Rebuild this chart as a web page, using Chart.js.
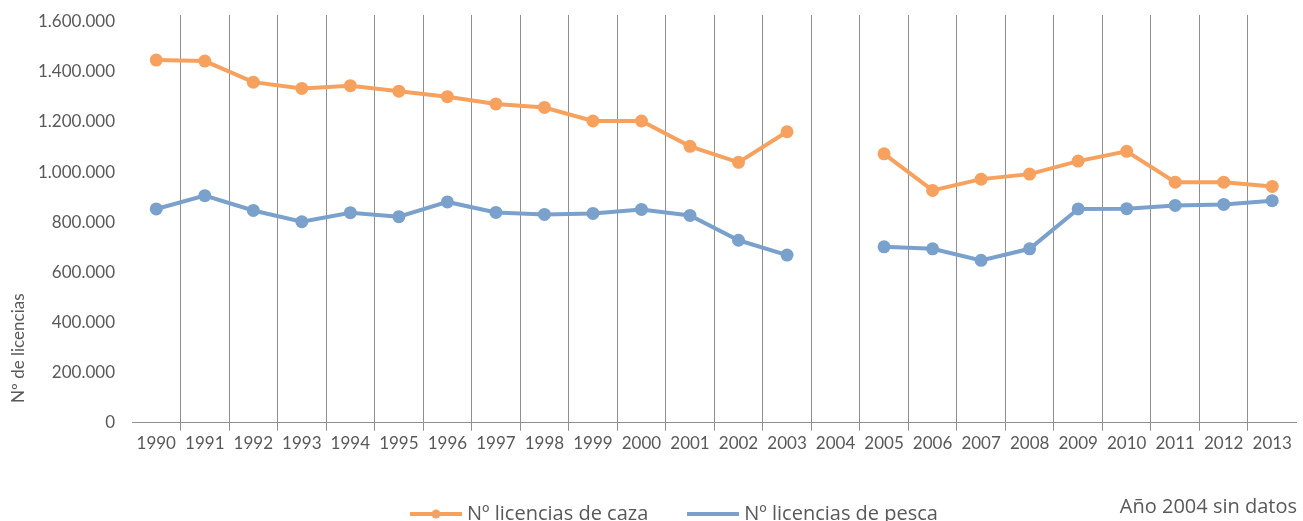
<!DOCTYPE html>
<html><head><meta charset="utf-8">
<script src="https://cdn.jsdelivr.net/npm/chart.js@4"></script>
<style>html,body{margin:0;padding:0;background:#fff;overflow:hidden}</style>
</head><body>
<canvas id="c" width="1303" height="521"></canvas>
<script>
// ---- data ----
const years = ['1990','1991','1992','1993','1994','1995','1996','1997','1998','1999','2000','2001','2002','2003','2004','2005','2006','2007','2008','2009','2010','2011','2012','2013'];
const caza  = [1447000,1443000,1359000,1334000,1345000,1323000,1301000,1272000,1258000,1204000,1204000,1103000,1039000,1161000,null,1073000,927000,972000,992000,1044000,1083000,960000,960000,943000];
const pesca = [853000,906000,847000,802000,838000,822000,881000,839000,831000,835000,851000,827000,728000,669000,null,702000,694000,648000,694000,853000,854000,867000,871000,886000];
const yTicks = [0,200000,400000,600000,800000,1000000,1200000,1400000,1600000];
const seriesNames = ['Nº licencias de caza','Nº licencias de pesca'];
const yTitle = 'Nº de licencias';
const note = 'Año 2004 sin datos';

// ---- style ----
const ORANGE = '#F7A15F';
const BLUE = '#7AA0CC';
const GRID = '#8e8e8e';
const TEXT = '#595959';
const FONT = "Lato, 'Open Sans', sans-serif";
const FONT2 = "'Open Sans', Lato, sans-serif";

function fmt(v){ return String(v).replace(/\B(?=(\d{3})+(?!\d))/g,'.'); }

function legendImg(color, dot){
  const c = document.createElement('canvas');
  c.width = 52; c.height = 12;
  const g = c.getContext('2d');
  g.strokeStyle = color; g.lineWidth = 4;
  g.beginPath(); g.moveTo(0,6); g.lineTo(52,6); g.stroke();
  if (dot) { g.fillStyle = color; g.beginPath(); g.arc(26,6,4.5,0,Math.PI*2); g.fill(); }
  return c;
}
const legendImgs = [legendImg(ORANGE, true), legendImg(BLUE, false)];

const extras = {
  id: 'extras',
  afterLayout(chart){
    if (chart.legend) { chart.legend.left = 55; }
  },
  afterDraw(chart){
    const ctx = chart.ctx;
    ctx.save();
    ctx.fillStyle = TEXT;
    ctx.font = '17px ' + FONT;
    ctx.translate(19, 403);
    ctx.rotate(-Math.PI/2);
    ctx.textAlign = 'left'; ctx.textBaseline = 'middle';
    ctx.fillText(yTitle, 0, 0);
    ctx.restore();
    ctx.save();
    ctx.fillStyle = TEXT;
    ctx.font = '20px ' + FONT2;
    ctx.textAlign = 'right'; ctx.textBaseline = 'middle';
    ctx.fillText(note, 1297, 507);
    ctx.restore();
  }
};

new Chart(document.getElementById('c'), {
  type: 'line',
  data: {
    labels: years,
    datasets: [
      {label: seriesNames[0], data: caza, borderColor: ORANGE, backgroundColor: ORANGE, borderWidth: 4,
       pointRadius: 6.5, pointBorderWidth: 0, pointBackgroundColor: ORANGE, pointHoverRadius: 6.5, spanGaps: false},
      {label: seriesNames[1], data: pesca, borderColor: BLUE, backgroundColor: BLUE, borderWidth: 4,
       pointRadius: 6.5, pointBorderWidth: 0, pointBackgroundColor: BLUE, pointHoverRadius: 6.5, spanGaps: false}
    ]
  },
  options: {
    responsive: false,
    animation: false,
    devicePixelRatio: 1,
    layout: {padding: {left: 0, right: 5, top: 15, bottom: -13}},
    plugins: {
      tooltip: {enabled: false},
      legend: {
        position: 'bottom',
        align: 'center',
        labels: {
          usePointStyle: true,
          pointStyleWidth: 42,
          padding: 44,
          color: TEXT,
          font: {family: FONT2, size: 20},
          generateLabels(chart){
            const items = Chart.defaults.plugins.legend.labels.generateLabels(chart);
            items.forEach(it => { it.pointStyle = legendImgs[it.datasetIndex]; });
            return items;
          }
        }
      }
    },
    scales: {
      x: {
        type: 'category',
        offset: true,
        grid: {
          offset: true,
          color: c => (c.index > 0 ? GRID : 'rgba(0,0,0,0)'),
          lineWidth: 1,
          drawTicks: true,
          tickLength: 8
        },
        border: {display: true, color: GRID, width: 1},
        ticks: {color: TEXT, font: {family: FONT, size: 17}, padding: 3, maxRotation: 0, autoSkip: false},
        afterFit(s){ s.height = 37.3; s.paddingLeft = 0; s.paddingRight = 0; }
      },
      y: {
        min: 0,
        max: 1627000,
        grid: {display: false, drawTicks: false},
        border: {display: false},
        ticks: {color: TEXT, font: {family: FONT, size: 17}, padding: 17, callback: v => fmt(v)},
        afterBuildTicks(s){ s.ticks = yTicks.map(v => ({value: v})); },
        afterFit(s){ s.width = 132; s.paddingTop = 0; s.paddingBottom = 0; }
      }
    }
  },
  plugins: [extras]
});
</script>
</body></html>
